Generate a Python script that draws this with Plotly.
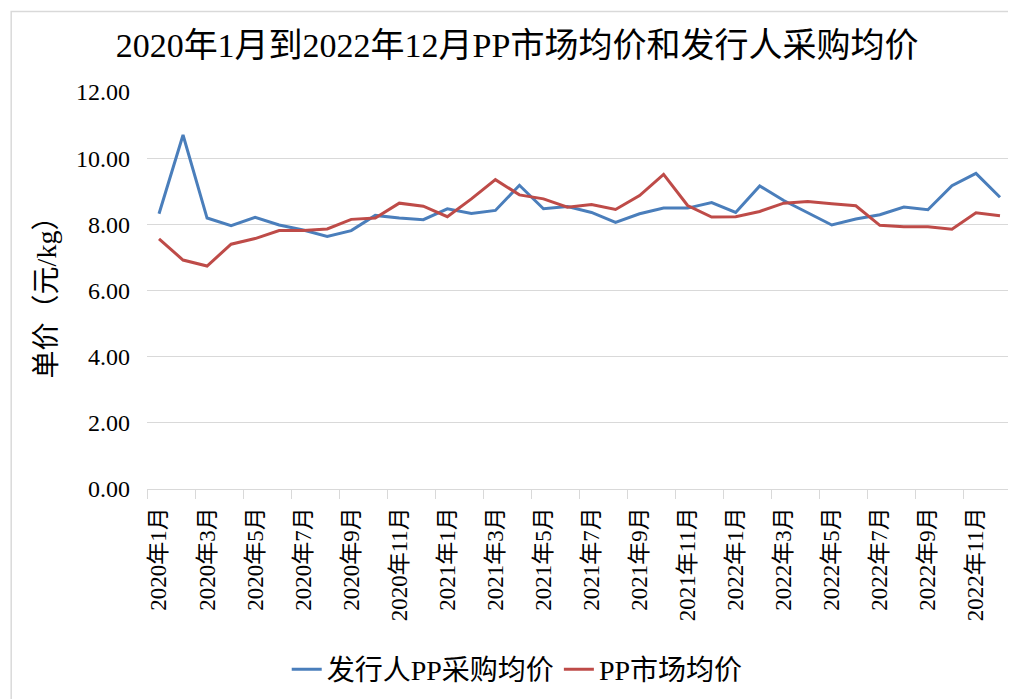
import plotly.graph_objects as go

months = [f"{y}年{m}月" for y in (2020, 2021, 2022) for m in range(1, 13)]

issuer_price = [8.32, 10.70, 8.19, 7.96, 8.21, 7.98, 7.83, 7.63, 7.81, 8.27, 8.19, 8.14,
                8.47, 8.33, 8.42, 9.18, 8.47, 8.54, 8.36, 8.06, 8.32, 8.49, 8.49, 8.66,
                8.36, 9.16, 8.72, 8.36, 7.98, 8.16, 8.29, 8.52, 8.44, 9.17, 9.54, 8.82]
market_price = [7.56, 6.92, 6.74, 7.40, 7.57, 7.81, 7.81, 7.86, 8.15, 8.19, 8.64, 8.55,
                8.23, 8.77, 9.35, 8.89, 8.77, 8.52, 8.60, 8.45, 8.87, 9.51, 8.57, 8.22,
                8.23, 8.39, 8.64, 8.69, 8.62, 8.56, 7.97, 7.93, 7.93, 7.85, 8.35, 8.26]

series_names = ["发行人PP采购均价", "PP市场均价"]
colors = ["#4A7EBB", "#BE4B48"]

FONT = "Liberation Serif, Times New Roman, Noto Sans CJK SC, serif"

idx = list(range(len(months)))
tick_idx = idx[::2]
tick_txt = [months[i] for i in tick_idx]

fig = go.Figure()
for name, vals, c in zip(series_names, [issuer_price, market_price], colors):
    fig.add_trace(go.Scatter(x=idx, y=vals, mode="lines", name=name,
                             line=dict(color=c, width=3)))

fig.update_layout(
    width=1008, height=691,
    paper_bgcolor="white", plot_bgcolor="white",
    margin=dict(l=139, r=4, t=84, b=204),
    font=dict(family=FONT, color="#000000"),
    title=dict(text="2020年1月到2022年12月PP市场均价和发行人采购均价",
               x=0.505, xref="container", xanchor="center",
               y=0.9465, yref="container", yanchor="middle",
               font=dict(size=34, family=FONT, color="#000000")),
    showlegend=True,
    legend=dict(orientation="h", x=0.428, xanchor="center", y=-0.455, yanchor="middle",
                font=dict(size=28, family=FONT), itemwidth=30,
                bgcolor="rgba(0,0,0,0)"),
    xaxis=dict(range=[-0.5, len(months) - 0.5], tickmode="array",
               tickvals=tick_idx, ticktext=tick_txt, tickangle=-90,
               ticks="", showgrid=False, zeroline=False,
               showline=True, linecolor="#D9D9D9", linewidth=1,
               tickfont=dict(size=23, family=FONT), ticklabelstandoff=8,
               minor=dict(tick0=-0.5, dtick=2, ticks="outside", ticklen=9,
                          tickcolor="#D9D9D9", tickwidth=1, showgrid=False)),
    yaxis=dict(range=[0, 12], tickmode="linear", tick0=0, dtick=2,
               tickformat=".2f", showgrid=True, gridcolor="#D9D9D9", gridwidth=1,
               zeroline=False, showline=False, ticks="",
               tickfont=dict(size=24, family=FONT), ticklabelstandoff=16,
               title=dict(text="单价（元/kg）", font=dict(size=28, family=FONT),
                          standoff=11)),
    shapes=[
        dict(type="rect", xref="paper", yref="paper", x0=-0.157, x1=1.02,
             y0=-0.6, y1=1.2025, line=dict(color="#D9D9D9", width=1.5),
             fillcolor="rgba(0,0,0,0)", layer="below"),
        dict(type="line", xref="x", yref="paper", x0=len(months) - 0.5,
             x1=len(months) - 0.5, y0=0, y1=-0.0228,
             line=dict(color="#D9D9D9", width=1)),
    ],
)

fig.write_html("out.html")
